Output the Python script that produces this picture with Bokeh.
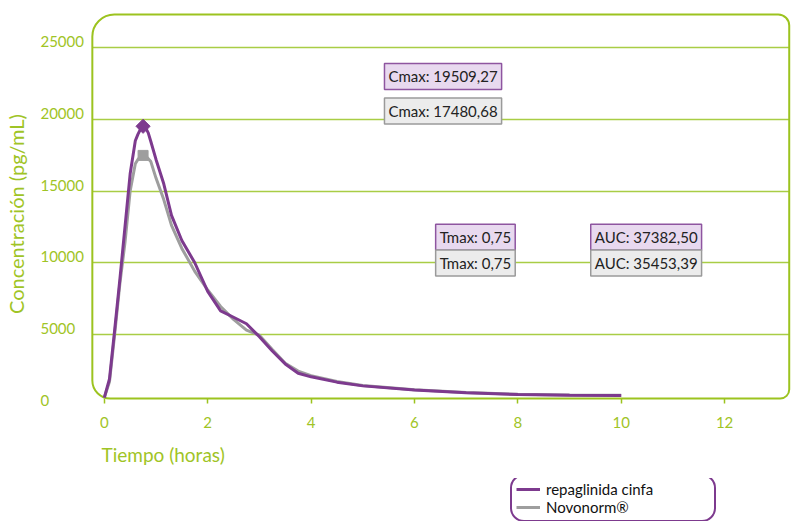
import numpy as np
from bokeh.plotting import figure
from bokeh.layouts import column
from bokeh.models import (Range1d, FixedTicker, BoxAnnotation, Label, Legend,
                          LegendItem, Title)
from bokeh.core.properties import value
from bokeh.embed import file_html
from bokeh.resources import INLINE

# ---------------- data ----------------
time_h = [0, 0.1, 0.2, 0.3, 0.4, 0.5, 0.6, 0.65, 0.7, 0.75, 0.8, 0.85, 0.9,
          1.0, 1.15, 1.3, 1.5, 1.75, 2.0, 2.25, 2.5, 2.75, 3.0, 3.25, 3.5,
          3.75, 4.0, 4.5, 5, 6, 7, 8, 9, 10]
repaglinida_cinfa = [600, 1900, 5300, 8800, 12500, 16200, 18500, 18950, 19300,
                     19509.27, 19400, 19050, 18450, 17200, 15500, 13300,
                     11550, 10000, 8000, 6650, 6200, 5750, 4850, 3850, 2950,
                     2300, 2050, 1680, 1420, 1140, 940, 820, 770, 750]
novonorm = [600, 1700, 5000, 8500, 11400, 15000, 16900, 17200, 17400,
            17480.68, 17420, 17250, 17050, 15900, 14400, 12600, 11000, 9400,
            8100, 6950, 6050, 5300, 4950, 3950, 3000, 2450, 2130, 1720, 1440,
            1150, 950, 830, 780, 760]
series_names = ["repaglinida cinfa", "Novonorm®"]
cmax = [19509.27, 17480.68]
tmax = [0.75, 0.75]
auc = [37382.50, 35453.39]
x_ticks = [0, 2, 4, 6, 8, 10, 12]
y_ticks = [0, 5000, 10000, 15000, 20000, 25000]

# ---------------- styles ----------------
GREEN_LINE = "#9cc31f"
GRID = "#a9cd45"
GREEN_TEXT = "#9fc426"
PURPLE = "#7d3a8e"
GRAY = "#9e9e9e"
PURPLE_BOX_LINE = "#8e55a0"
PURPLE_BOX_FILL = "#e8d9ef"
GRAY_BOX_LINE = "#9a9a9a"
GRAY_BOX_FILL = "#ececec"
FONT = "Lato"


def fmt(v):
    return f"{v:.2f}".replace(".", ",")


p = figure(width=791, height=478,
           x_range=Range1d(-1.273, 13.294), y_range=Range1d(-296, 27439),
           output_backend="svg", toolbar_location=None,
           min_border_left=36, min_border_right=0, min_border_top=12,
           min_border_bottom=68)
p.outline_line_color = None
p.background_fill_color = "white"
p.border_fill_color = "white"

# grid
p.xgrid.visible = False
p.ygrid.ticker = FixedTicker(ticks=y_ticks[1:])
p.ygrid.grid_line_color = GRID
p.ygrid.grid_line_width = 1.5
p.ygrid.cross_bounds = (-0.2315, 13.25)

# rounded frame
frame_box = BoxAnnotation(left=-0.2315, right=13.25, bottom=540, top=27300,
                          fill_color=None, fill_alpha=0,
                          line_color=GREEN_LINE, line_alpha=1.0, line_width=2,
                          border_radius=dict(top_left=22, top_right=11,
                                             bottom_right=9, bottom_left=18),
                          level="underlay")
p.add_layout(frame_box)

# y axis (title only; tick labels drawn as text)
p.yaxis.ticker = FixedTicker(ticks=[])
p.yaxis.axis_line_color = None
p.yaxis.major_tick_line_color = None
p.yaxis.minor_tick_line_color = None
p.yaxis.axis_label = "Concentración  (pg/mL)"
p.yaxis.axis_label_text_font = FONT
p.yaxis.axis_label_text_font_size = "20px"
p.yaxis.axis_label_text_font_style = "normal"
p.yaxis.axis_label_text_color = GREEN_TEXT
p.yaxis.axis_label_standoff = 11

p.text(x=-1.235, y=y_ticks, text=[str(t) for t in y_ticks],
       text_font=value(FONT), text_font_size="15px", text_color=GREEN_TEXT,
       text_align="left", text_baseline="middle", y_offset=-6)

# x axis
p.xaxis.ticker = FixedTicker(ticks=x_ticks)
p.xaxis.axis_line_color = None
p.xaxis.major_tick_line_color = GREEN_LINE
p.xaxis.major_tick_line_width = 1.5
p.xaxis.major_tick_in = 12
p.xaxis.major_tick_out = -7
p.xaxis.minor_tick_line_color = None
p.xaxis.minor_tick_in = 0
p.xaxis.minor_tick_out = 0
p.xaxis.major_label_text_font = FONT
p.xaxis.major_label_text_font_size = "15px"
p.xaxis.major_label_text_color = GREEN_TEXT
p.xaxis.major_label_standoff = 6

xt = Title(text="Tiempo (horas)", align="left", offset=63,
           text_font=FONT, text_font_size="19px", text_font_style="normal",
           text_color=GREEN_TEXT, standoff=21)
p.add_layout(xt, "below")

# curves
r_gray = p.line(time_h, novonorm, line_color=GRAY, line_width=3)
r_purple = p.line(time_h, repaglinida_cinfa, line_color=PURPLE, line_width=3)
p.scatter([tmax[1]], [cmax[1]], marker="square", size=10,
          fill_color=GRAY, line_color=GRAY)
p.scatter([tmax[0]], [cmax[0]], marker="square", angle=np.pi / 4, size=10,
          fill_color=PURPLE, line_color=PURPLE)

# annotation boxes
box_specs = [
    (f"Cmax: {fmt(cmax[0])}", 5.42, 22980, 0),
    (f"Cmax: {fmt(cmax[1])}", 5.42, 20575, 1),
    (f"Tmax: {fmt(tmax[0])}", 6.41, 11780, 0),
    (f"Tmax: {fmt(tmax[1])}", 6.41, 9983, 1),
    (f"AUC: {fmt(auc[0])}", 9.41, 11780, 0),
    (f"AUC: {fmt(auc[1])}", 9.41, 9983, 1),
]
for txt, bx, by, k in box_specs:
    lab = Label(x=bx, y=by, text=txt, text_font=FONT, text_font_size="15px",
                text_color="#222222", text_align="left",
                text_baseline="middle",
                background_fill_color=PURPLE_BOX_FILL if k == 0 else GRAY_BOX_FILL,
                border_line_color=PURPLE_BOX_LINE if k == 0 else GRAY_BOX_LINE,
                border_line_width=1.5, padding=4)
    p.add_layout(lab)

# ---------------- legend strip below the chart ----------------
lg = figure(width=791, height=43, x_range=Range1d(0, 1), y_range=Range1d(0, 1),
            output_backend="svg", toolbar_location=None,
            x_axis_type=None, y_axis_type=None, min_border=0)
lg.outline_line_color = None
lg.grid.visible = False
lg.background_fill_color = "white"
lg.border_fill_color = "white"
# legend keys: the same series, which fall outside this strip's ranges
k_purple = lg.line(time_h, repaglinida_cinfa, line_color=PURPLE, line_width=3)
k_gray = lg.line(time_h, novonorm, line_color=GRAY, line_width=3)

legend_kwargs = dict(
    items=[LegendItem(label=series_names[0], renderers=[k_purple]),
           LegendItem(label=series_names[1], renderers=[k_gray])],
    location=(472, -1), orientation="vertical",
    border_line_color=PURPLE, border_line_alpha=1.0, border_line_width=2,
    padding=4, spacing=0, margin=0, label_height=18, glyph_height=18,
    glyph_width=24, label_standoff=6, label_width=164,
    label_text_font=FONT, label_text_font_size="15px",
    label_text_color="#111111", background_fill_color="white",
    background_fill_alpha=1.0)
if "border_radius" in Legend.properties():
    legend_kwargs["border_radius"] = 14
legend = Legend(**legend_kwargs)
lg.add_layout(legend)

layout = column(p, lg, spacing=0)
open("out.html", "w").write(file_html(layout, INLINE))
